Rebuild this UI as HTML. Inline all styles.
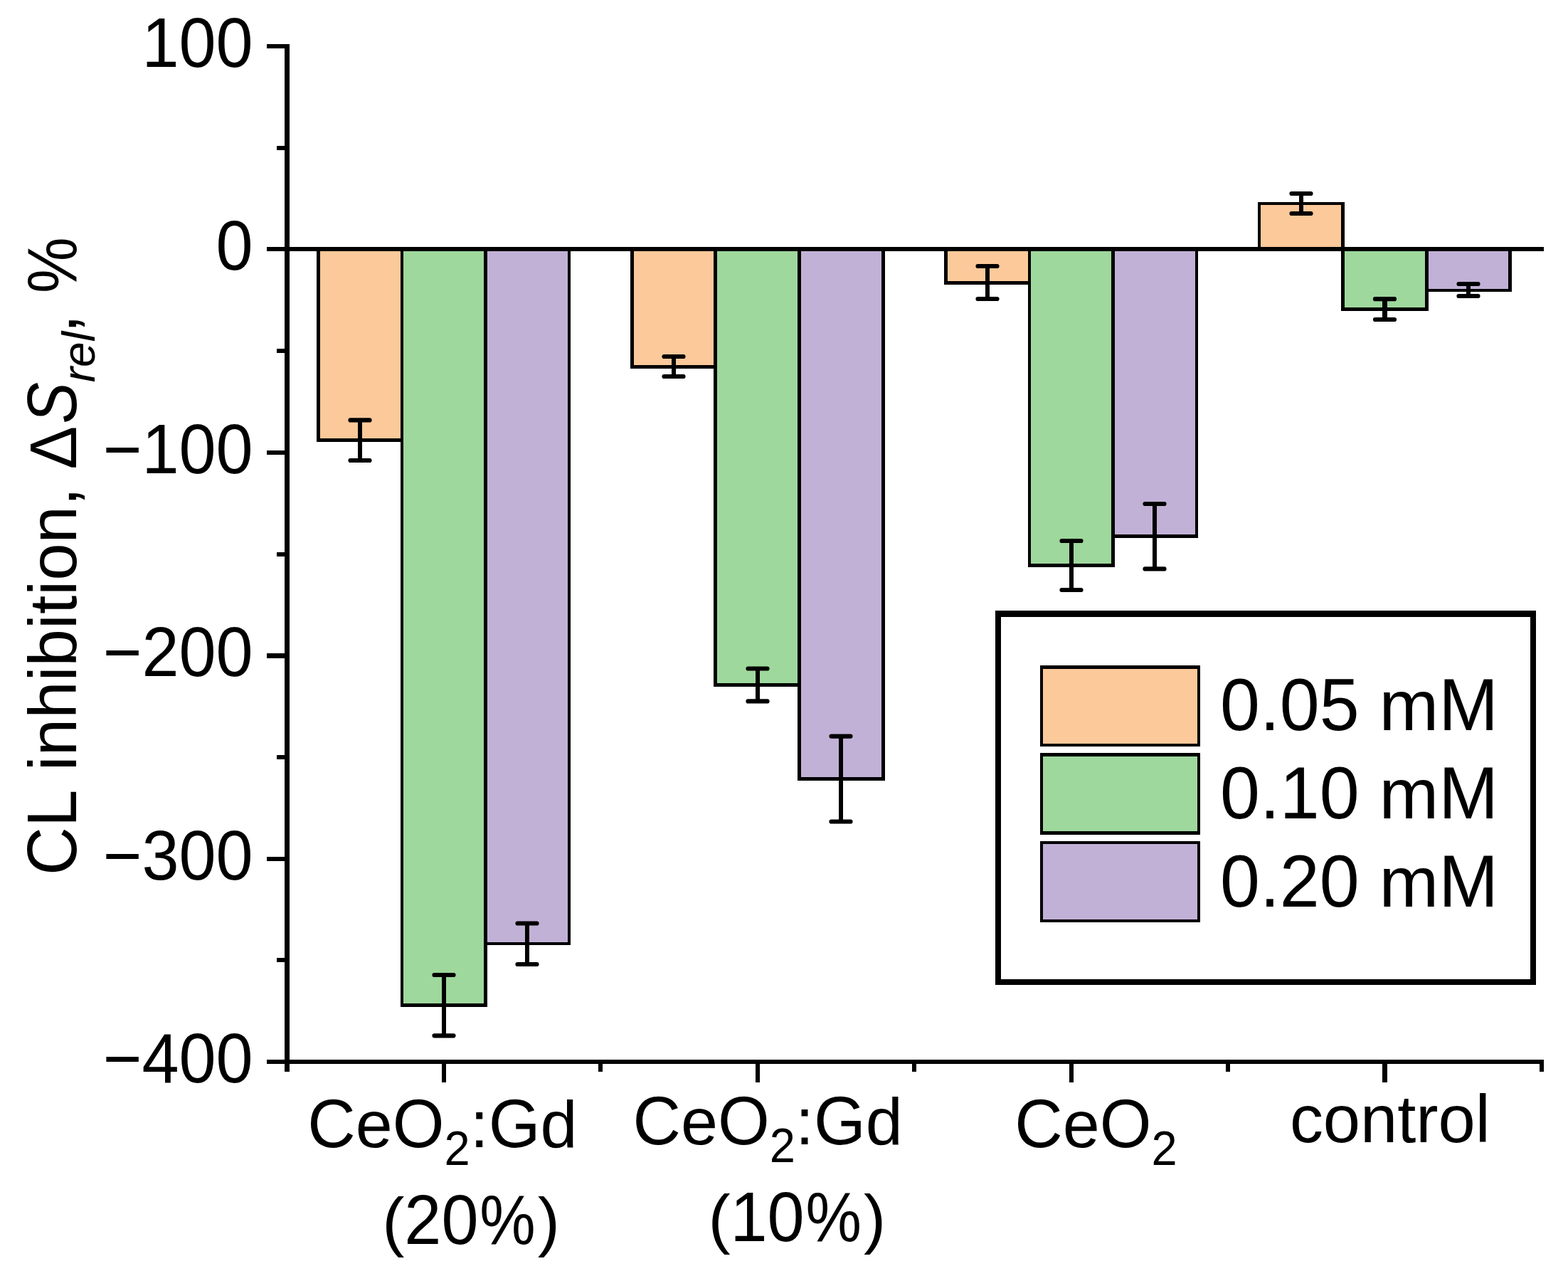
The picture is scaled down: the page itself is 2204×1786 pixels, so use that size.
<!DOCTYPE html>
<html lang="en"><head><meta charset="utf-8">
<title>CL inhibition chart</title>
<style>
html,body{margin:0;padding:0;background:#fff;}
body{width:2204px;height:1786px;}
svg{display:block;}
text{font-family:"Liberation Sans", sans-serif;fill:#000;font-kerning:none;}
</style></head><body>
<svg width="2204" height="1786" viewBox="0 0 2204 1786">
<rect x="0" y="0" width="2204" height="1786" fill="#ffffff"/>
<g id="bars">
<rect x="445" y="350" width="122" height="271" fill="#000"/>
<rect x="450" y="350" width="113" height="266" fill="#FCC99A"/>
<rect x="563" y="350" width="122" height="1065" fill="#000"/>
<rect x="567" y="350" width="113" height="1060" fill="#9ED89C"/>
<rect x="680" y="350" width="122" height="978" fill="#000"/>
<rect x="685" y="350" width="113" height="974" fill="#C2B1D6"/>
<rect x="886" y="350" width="122" height="168" fill="#000"/>
<rect x="891" y="350" width="112" height="163" fill="#FCC99A"/>
<rect x="1003" y="350" width="123" height="615" fill="#000"/>
<rect x="1008" y="350" width="113" height="610" fill="#9ED89C"/>
<rect x="1121" y="350" width="123" height="747" fill="#000"/>
<rect x="1126" y="350" width="113" height="742" fill="#C2B1D6"/>
<rect x="1327" y="350" width="122" height="50" fill="#000"/>
<rect x="1332" y="350" width="113" height="45" fill="#FCC99A"/>
<rect x="1445" y="350" width="122" height="447" fill="#000"/>
<rect x="1449" y="350" width="113" height="442" fill="#9ED89C"/>
<rect x="1562" y="350" width="122" height="406" fill="#000"/>
<rect x="1567" y="350" width="113" height="401" fill="#C2B1D6"/>
<rect x="1768" y="284" width="122" height="66" fill="#000"/>
<rect x="1772" y="288" width="113" height="62" fill="#FCC99A"/>
<rect x="1885" y="350" width="123" height="87" fill="#000"/>
<rect x="1890" y="350" width="113" height="82" fill="#9ED89C"/>
<rect x="2003" y="350" width="122" height="60" fill="#000"/>
<rect x="2008" y="350" width="112" height="56" fill="#C2B1D6"/>
</g>
<g id="errors" stroke="#000" fill="none">
<path d="M506.0 590.4V647.0" stroke-width="6.0"/>
<path d="M492.5 590.4H519.5M492.5 647.0H519.5" stroke-width="6.2" stroke-linecap="round"/>
<path d="M624.0 1370.0V1455.3" stroke-width="6.0"/>
<path d="M610.5 1370.0H637.5M610.5 1455.3H637.5" stroke-width="6.2" stroke-linecap="round"/>
<path d="M741.0 1297.5V1355.0" stroke-width="6.0"/>
<path d="M727.5 1297.5H754.5M727.5 1355.0H754.5" stroke-width="6.2" stroke-linecap="round"/>
<path d="M947.0 501.0V529.0" stroke-width="6.0"/>
<path d="M933.5 501.0H960.5M933.5 529.0H960.5" stroke-width="6.2" stroke-linecap="round"/>
<path d="M1065.0 939.5V985.4" stroke-width="6.0"/>
<path d="M1051.5 939.5H1078.5M1051.5 985.4H1078.5" stroke-width="6.2" stroke-linecap="round"/>
<path d="M1182.0 1034.6V1154.5" stroke-width="6.0"/>
<path d="M1168.5 1034.6H1195.5M1168.5 1154.5H1195.5" stroke-width="6.2" stroke-linecap="round"/>
<path d="M1388.0 374.0V420.0" stroke-width="6.0"/>
<path d="M1374.5 374.0H1401.5M1374.5 420.0H1401.5" stroke-width="6.2" stroke-linecap="round"/>
<path d="M1506.0 760.0V829.0" stroke-width="6.0"/>
<path d="M1492.5 760.0H1519.5M1492.5 829.0H1519.5" stroke-width="6.2" stroke-linecap="round"/>
<path d="M1623.0 708.0V799.4" stroke-width="6.0"/>
<path d="M1609.5 708.0H1636.5M1609.5 799.4H1636.5" stroke-width="6.2" stroke-linecap="round"/>
<path d="M1829.0 272.0V300.0" stroke-width="6.0"/>
<path d="M1815.5 272.0H1842.5M1815.5 300.0H1842.5" stroke-width="6.2" stroke-linecap="round"/>
<path d="M1946.5 420.2V449.0" stroke-width="7.0"/>
<path d="M1933.0 420.2H1960.0M1933.0 449.0H1960.0" stroke-width="6.2" stroke-linecap="round"/>
<path d="M2064.0 399.0V416.0" stroke-width="6.0"/>
<path d="M2050.5 399.0H2077.5M2050.5 416.0H2077.5" stroke-width="6.2" stroke-linecap="round"/>
</g>
<g id="axes" fill="#000">
<rect x="400" y="62" width="7" height="1444"/>
<rect x="375" y="347" width="1795" height="6"/>
<rect x="375" y="1489" width="1795" height="6"/>
<rect x="375" y="62" width="28" height="6"/>
<rect x="375" y="633" width="28" height="6"/>
<rect x="375" y="918" width="28" height="7"/>
<rect x="375" y="1204" width="28" height="6"/>
<rect x="389" y="205" width="14" height="6"/>
<rect x="389" y="490" width="14" height="6"/>
<rect x="389" y="776" width="14" height="6"/>
<rect x="389" y="1061" width="14" height="6"/>
<rect x="389" y="1346" width="14" height="6"/>
<rect x="621" y="1492" width="6" height="29"/>
<rect x="1062" y="1492" width="6" height="29"/>
<rect x="1503" y="1492" width="6" height="29"/>
<rect x="1943" y="1492" width="7" height="29"/>
<rect x="841" y="1492" width="6" height="14"/>
<rect x="1282" y="1492" width="6" height="14"/>
<rect x="1723" y="1492" width="6" height="14"/>
<rect x="2164" y="1492" width="6" height="14"/>
</g>
<g id="yticks">
<text><tspan x="199.43" y="93.90" font-size="97.34" textLength="156.17" lengthAdjust="spacingAndGlyphs">100</tspan></text>
<text><tspan x="303.54" y="378.90" font-size="97.34" textLength="52.06" lengthAdjust="spacingAndGlyphs">0</tspan></text>
<text><tspan x="144.77" y="664.90" font-size="97.34" textLength="210.83" lengthAdjust="spacingAndGlyphs">−100</tspan></text>
<text><tspan x="144.77" y="950.20" font-size="97.34" textLength="210.83" lengthAdjust="spacingAndGlyphs">−200</tspan></text>
<text><tspan x="144.77" y="1235.90" font-size="97.34" textLength="210.83" lengthAdjust="spacingAndGlyphs">−300</tspan></text>
<text><tspan x="144.77" y="1520.90" font-size="97.34" textLength="210.83" lengthAdjust="spacingAndGlyphs">−400</tspan></text>
</g>
<g id="ytitle" transform="translate(107.2 0) rotate(-90)">
<text><tspan x="-1230.00" y="0.00" font-size="97.76" textLength="146.28" lengthAdjust="spacingAndGlyphs">CL </tspan><tspan x="-1083.20" y="0.00" font-size="94.30">inhibition, </tspan><tspan x="-659.40" y="0" font-size="93.2" textLength="60.82" lengthAdjust="spacingAndGlyphs">Δ</tspan><tspan x="-595.50" y="0" font-size="98.23" font-style="italic" textLength="58.43" lengthAdjust="spacingAndGlyphs">S</tspan><tspan x="-537.20" y="25.5" font-size="64" font-style="italic">rel</tspan><tspan x="-467.90" y="0" font-size="94">, </tspan><tspan x="-412.10" y="0" font-size="97.76" textLength="78.73" lengthAdjust="spacingAndGlyphs">%</tspan></text>
</g>
<g id="xlabels">
<text><tspan x="432.30" y="1611.80" font-size="97.24" textLength="67.52" lengthAdjust="spacingAndGlyphs">C</tspan><tspan x="499.82" y="1611.80" font-size="93.50">e</tspan><tspan x="551.82" y="1611.80" font-size="97.24" textLength="72.73" lengthAdjust="spacingAndGlyphs">O</tspan><tspan x="624.55" y="1636.70" font-size="67.60" textLength="36.15" lengthAdjust="spacingAndGlyphs">2</tspan><tspan x="660.70" y="1611.80" font-size="93.50">:</tspan><tspan x="686.68" y="1611.80" font-size="97.24" textLength="72.73" lengthAdjust="spacingAndGlyphs">G</tspan><tspan x="759.40" y="1611.80" font-size="93.50">d</tspan></text>
<text><tspan x="537.20" y="1748.00" font-size="93.60">(</tspan><tspan x="568.37" y="1748.00" font-size="97.34" textLength="104.11" lengthAdjust="spacingAndGlyphs">20</tspan><tspan x="674.27" y="1748.00" font-size="97.34" textLength="78.40" lengthAdjust="spacingAndGlyphs">%</tspan><tspan x="755.71" y="1748.00" font-size="93.60">)</tspan></text>
<text><tspan x="889.60" y="1607.80" font-size="97.24" textLength="67.52" lengthAdjust="spacingAndGlyphs">C</tspan><tspan x="957.12" y="1607.80" font-size="93.50">e</tspan><tspan x="1009.12" y="1607.80" font-size="97.24" textLength="72.73" lengthAdjust="spacingAndGlyphs">O</tspan><tspan x="1081.85" y="1632.70" font-size="67.60" textLength="36.15" lengthAdjust="spacingAndGlyphs">2</tspan><tspan x="1118.00" y="1607.80" font-size="93.50">:</tspan><tspan x="1143.98" y="1607.80" font-size="97.24" textLength="72.73" lengthAdjust="spacingAndGlyphs">G</tspan><tspan x="1216.70" y="1607.80" font-size="93.50">d</tspan></text>
<text><tspan x="995.40" y="1743.90" font-size="93.60">(</tspan><tspan x="1026.57" y="1743.90" font-size="97.34" textLength="104.11" lengthAdjust="spacingAndGlyphs">10</tspan><tspan x="1132.47" y="1743.90" font-size="97.34" textLength="78.40" lengthAdjust="spacingAndGlyphs">%</tspan><tspan x="1213.91" y="1743.90" font-size="93.60">)</tspan></text>
<text><tspan x="1426.20" y="1611.80" font-size="97.24" textLength="67.52" lengthAdjust="spacingAndGlyphs">C</tspan><tspan x="1493.72" y="1611.80" font-size="93.50">e</tspan><tspan x="1545.72" y="1611.80" font-size="97.24" textLength="72.73" lengthAdjust="spacingAndGlyphs">O</tspan><tspan x="1618.45" y="1636.70" font-size="67.60" textLength="36.15" lengthAdjust="spacingAndGlyphs">2</tspan></text>
<text><tspan x="1812.90" y="1604.90" font-size="93.90">control</tspan></text>
</g>
<g id="legend">
<rect x="1399" y="858" width="760" height="526" fill="#000"/>
<rect x="1407" y="867" width="744" height="509" fill="#fff"/>
<rect x="1462" y="935" width="225" height="114" fill="#000"/>
<rect x="1466" y="940" width="217" height="105" fill="#FCC99A"/>
<rect x="1462" y="1058" width="225" height="115" fill="#000"/>
<rect x="1466" y="1063" width="217" height="105" fill="#9ED89C"/>
<rect x="1462" y="1182" width="225" height="114" fill="#000"/>
<rect x="1466" y="1186" width="217" height="106" fill="#C2B1D6"/>
<text><tspan x="1715.00" y="1026.00" font-size="104.52" textLength="55.89" lengthAdjust="spacingAndGlyphs">0</tspan><tspan x="1770.89" y="1026.00" font-size="100.50">.</tspan><tspan x="1798.82" y="1026.00" font-size="104.52" textLength="139.71" lengthAdjust="spacingAndGlyphs">05 </tspan><tspan x="1938.52" y="1026.00" font-size="100.50">m</tspan><tspan x="2022.24" y="1026.00" font-size="104.52" textLength="83.72" lengthAdjust="spacingAndGlyphs">M</tspan></text>
<text><tspan x="1715.00" y="1150.00" font-size="104.52" textLength="55.89" lengthAdjust="spacingAndGlyphs">0</tspan><tspan x="1770.89" y="1150.00" font-size="100.50">.</tspan><tspan x="1798.82" y="1150.00" font-size="104.52" textLength="139.71" lengthAdjust="spacingAndGlyphs">10 </tspan><tspan x="1938.52" y="1150.00" font-size="100.50">m</tspan><tspan x="2022.24" y="1150.00" font-size="104.52" textLength="83.72" lengthAdjust="spacingAndGlyphs">M</tspan></text>
<text><tspan x="1715.00" y="1274.00" font-size="104.52" textLength="55.89" lengthAdjust="spacingAndGlyphs">0</tspan><tspan x="1770.89" y="1274.00" font-size="100.50">.</tspan><tspan x="1798.82" y="1274.00" font-size="104.52" textLength="139.71" lengthAdjust="spacingAndGlyphs">20 </tspan><tspan x="1938.52" y="1274.00" font-size="100.50">m</tspan><tspan x="2022.24" y="1274.00" font-size="104.52" textLength="83.72" lengthAdjust="spacingAndGlyphs">M</tspan></text>
</g>
</svg>
</body></html>
